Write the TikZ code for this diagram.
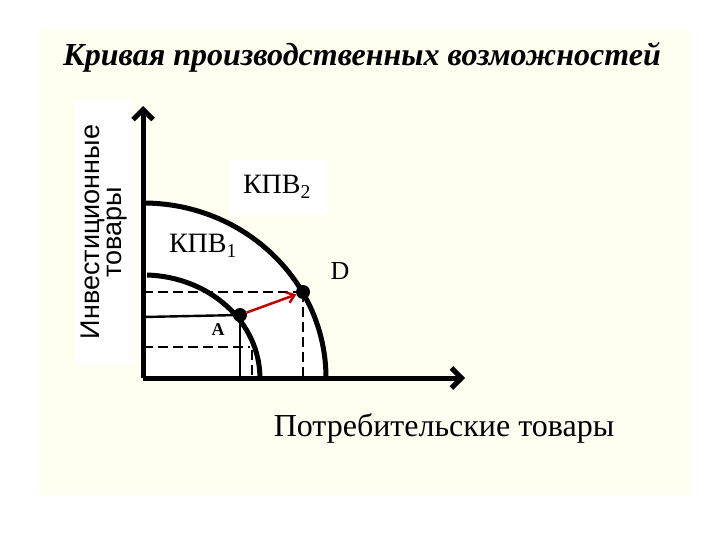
\documentclass[tikz,border=0pt]{standalone}
\usepackage{fontspec}
\setmainfont{Liberation Serif}
\newfontfamily\arialf{Liberation Sans}
\usetikzlibrary{arrows.meta}
\definecolor{panel}{HTML}{FEFEF1}
\begin{document}
\begin{tikzpicture}[x=1pt,y=-1pt,
  axis/.style={line width=5pt,-{Straight Barb[length=10pt,width=20pt]}},
  curve/.style={line width=5pt},
  dsh/.style={line width=2.4pt,dash pattern=on 10pt off 5pt},
  sol/.style={line width=2.4pt},
  dot/.style={circle,fill=black,inner sep=0pt,minimum size=14pt},
  lbl/.style={font=\fontsize{28}{30}\selectfont,inner sep=1pt}]
\useasboundingbox (0,0) rectangle (720,540);
\fill[white] (0,0) rectangle (720,540);
\fill[panel] (38,30) rectangle (690,495);
\fill[white] (143,378) -- (143,203) arc[start angle=90,end angle=0,x radius=183,y radius=-175] -- cycle;
\fill[white] (75,100) rectangle (132,365);
\fill[white] (230,160) rectangle (327,215);
\node[font=\fontsize{32}{34}\selectfont\bfseries\itshape] (title) at (362,57) {Кривая производственных возможностей};
\node[rotate=90,align=center,font=\fontsize{27}{22}\selectfont\arialf,inner sep=0pt] (ylab) at (104,232) {Инвестиционные\\ товары};
\coordinate (O) at (143,378);
\coordinate (Ytop) at (143,106);
\coordinate (Xend) at (465,378);
\draw[axis] (O) -- (Ytop);
\draw[axis] (O) -- (Xend);
\draw[curve] (143,203) arc[start angle=90,end angle=0,x radius=183,y radius=-175];
\draw[curve] (147,275) arc[start angle=88,end angle=0,x radius=117,y radius=-103];
\node[dot] (D) at (303,292) {};
\node[dot] (A) at (240,315) {};
\draw[dsh] (143,292) -- (D.center);
\draw[dsh] (D.center) -- (303,378);
\draw[sol] (143,317) -- (A.center);
\draw[sol] (A.center) -- (240,378);
\draw[dsh] (143,347) -- (250,347);
\draw[dsh] (252,350) -- (252,378);
\draw[red!75!black,line width=2.5pt,-{Straight Barb[length=7pt,width=11pt]}] (A) -- (D);
\node[lbl] (k2) at (277,187) {КПВ\textsubscript{2}};
\node[lbl] (k1) at (203,246) {КПВ\textsubscript{1}};
\node[lbl,font=\fontsize{26}{28}\selectfont] (dl) at (340,271) {D};
\node[font=\fontsize{18}{20}\selectfont\bfseries] (al) at (218,330) {A};
\node[lbl,font=\fontsize{32}{34}\selectfont] (xl) at (444,428) {Потребительские товары};
\end{tikzpicture}
\end{document}
